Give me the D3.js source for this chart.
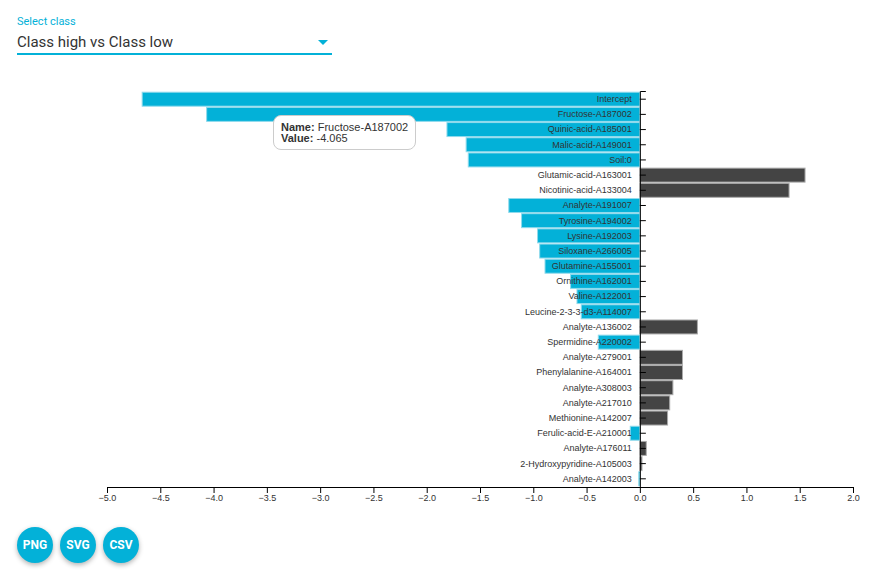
<!DOCTYPE html>
<html>
<head>
<meta charset="utf-8">
<script src="https://cdn.jsdelivr.net/npm/d3@7"></script>
<style>
body { margin: 0; background: #fff; font-family: Roboto, "Liberation Sans", Arial, sans-serif; }
#wrap { position: relative; width: 893px; height: 575px; overflow: hidden; }
#sel-label { position: absolute; left: 17px; top: 15px; font-size: 11px; color: #03b1d8; }
#sel-value { position: absolute; left: 17px; top: 33px; font-size: 15px; color: #333; }
#sel-line { position: absolute; left: 17px; top: 53px; width: 315px; height: 2px; background: #03b1d8; }
#sel-arrow { position: absolute; left: 318px; top: 40px; width: 0; height: 0; border-left: 5px solid transparent; border-right: 5px solid transparent; border-top: 5px solid #03b1d8; }
#tip { position: absolute; left: 273px; top: 115px; padding: 6px 7px 5px 7px; border: 1px solid #ccc; border-radius: 8px; background: #fff;
  font-family: "Liberation Sans", Arial, sans-serif; font-size: 11px; line-height: 11px; color: #333; white-space: nowrap; }
.btn { position: absolute; top: 527px; width: 36px; height: 36px; border-radius: 50%; background: #03b1d8; color: #fff; font-weight: bold;
  font-size: 12px; text-align: center; line-height: 36px; box-shadow: 0 2px 5px rgba(0,0,0,0.3); }
</style>
</head>
<body>
<div id="wrap">
  <div id="sel-label">Select class</div>
  <div id="sel-value">Class high vs Class low</div>
  <div id="sel-line"></div>
  <div id="sel-arrow"></div>
  <div id="chart"></div>
  <div id="tip"><b>Name:</b> Fructose-A187002<br><b>Value:</b> -4.065</div>
  <div class="btn" style="left:17px">PNG</div>
  <div class="btn" style="left:60px">SVG</div>
  <div class="btn" style="left:103px">CSV</div>
</div>
<script>
// names and coefficients, top to bottom
var names = ['Intercept', 'Fructose-A187002', 'Quinic-acid-A185001', 'Malic-acid-A149001', 'Soil:0',
  'Glutamic-acid-A163001', 'Nicotinic-acid-A133004', 'Analyte-A191007', 'Tyrosine-A194002', 'Lysine-A192003',
  'Siloxane-A266005', 'Glutamine-A155001', 'Ornithine-A162001', 'Valine-A122001', 'Leucine-2-3-3-d3-A114007',
  'Analyte-A136002', 'Spermidine-A220002', 'Analyte-A279001', 'Phenylalanine-A164001', 'Analyte-A308003',
  'Analyte-A217010', 'Methionine-A142007', 'Ferulic-acid-E-A210001', 'Analyte-A176011',
  '2-Hydroxypyridine-A105003', 'Analyte-A142003'];
var values = [-4.67, -4.065, -1.81, -1.63, -1.61,
  1.55, 1.40, -1.23, -1.11, -0.96,
  -0.94, -0.89, -0.65, -0.59, -0.55,
  0.54, -0.39, 0.40, 0.40, 0.31,
  0.28, 0.26, -0.09, 0.06,
  0.02, -0.01];
var xTicks = [-5.0, -4.5, -4.0, -3.5, -3.0, -2.5, -2.0, -1.5, -1.0, -0.5, 0.0, 0.5, 1.0, 1.5, 2.0];

var data = names.map(function(n, i){ return {name: n, value: values[i]}; });

var svg = d3.select('#chart')
  .append('svg')
  .attr('width', 893)
  .attr('height', 575)
  .style('position', 'absolute')
  .style('left', 0)
  .style('top', 0);

var x = d3.scaleLinear().domain([-5, 2]).range([107, 853]);
var y = d3.scaleBand().domain(names).range([91, 487]).padding(0.08);

// bars
svg.append('g')
  .selectAll('rect')
  .data(data)
  .enter()
  .append('rect')
  .attr('x', function(d){ return x(Math.min(0, d.value)); })
  .attr('y', function(d){ return y(d.name); })
  .attr('width', function(d){ return Math.abs(x(d.value) - x(0)); })
  .attr('height', y.bandwidth())
  .attr('fill', function(d){ return d.value < 0 ? '#03b1d8' : '#444'; })
  .attr('stroke', function(d){ return d.value < 0 ? '#8fdaec' : '#aaa'; })
  .attr('stroke-width', 1);

// x axis
var gx = svg.append('g')
  .attr('transform', 'translate(0,487)')
  .call(d3.axisBottom(x).tickValues(xTicks).tickFormat(d3.format('.1f')).tickSize(6).tickPadding(2));

// y axis, labels on left, ticks pointing right
var gy = svg.append('g')
  .attr('transform', 'translate(' + x(0) + ',0)')
  .call(d3.axisLeft(y).tickSize(-6).tickPadding(8));

[gx, gy].forEach(function(g){
  g.selectAll('text')
    .attr('fill', '#333')
    .style('font-family', '"Liberation Sans", Arial, sans-serif')
    .style('font-size', '9px');
  g.selectAll('line, path').attr('stroke', '#000');
});
</script>
</body>
</html>
